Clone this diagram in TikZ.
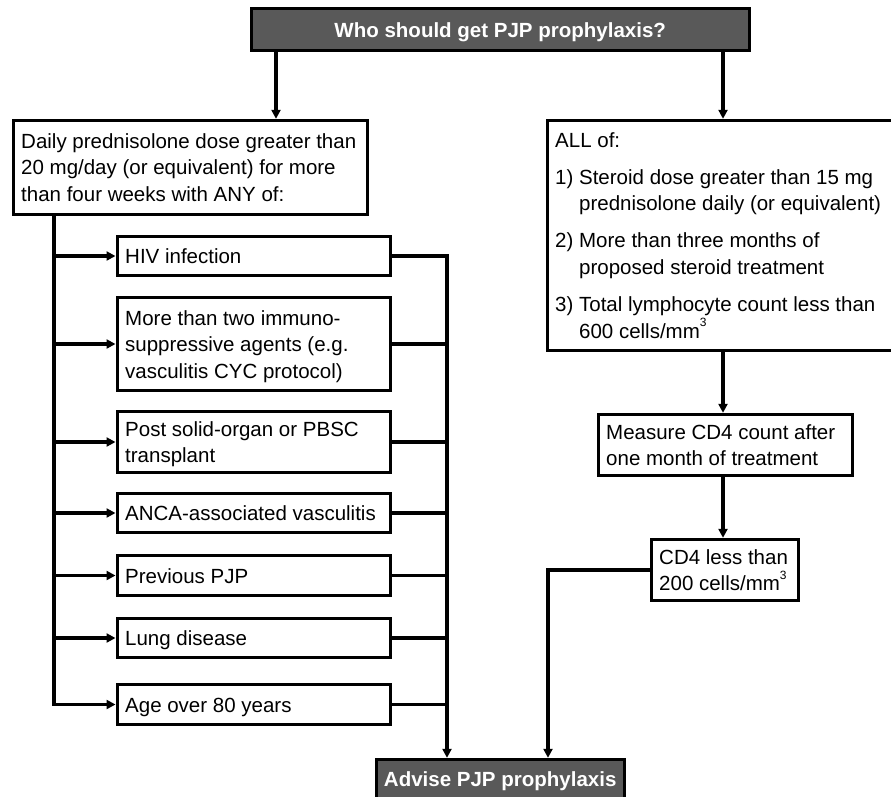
\documentclass[tikz,border=0pt]{standalone}
\usepackage{fontspec}
\setmainfont{Liberation Sans}
\usetikzlibrary{arrows.meta}
\definecolor{boxgray}{HTML}{595959}
\newcommand\bodyfont{\fontsize{20.5}{26.7}\selectfont}
\newcommand\bt[2]{\makebox[#1pt][l]{\parbox[t]{\dimexpr#1pt+60pt\relax}{\raggedright #2}}}
\newcommand\cubed{\raisebox{1.05ex}{\fontsize{12}{12}\selectfont 3}}
\tikzset{
  box/.style={draw, line width=3.4pt, fill=white, inner xsep=8pt, inner ysep=0pt, anchor=base west, font=\bodyfont},
  darkbox/.style={box, fill=boxgray, text=white, font=\bodyfont\bfseries},
  conn/.style={line width=3.2pt, line cap=rect},
  arr/.style={conn, -{Triangle[length=9pt,width=9pt]}},
}
\begin{document}
\begin{tikzpicture}[x=1pt,y=-1pt]
\useasboundingbox (0,0) rectangle (891,796);
\clip (0,0) rectangle (891,796);

% top and bottom dark boxes
\node[darkbox, text height=28.5pt, text depth=13.5pt] (title) at (249.5,37)
  {\makebox[482pt][c]{Who should get PJP prophylaxis?}};
\node[darkbox, text height=26.5pt, text depth=14pt] (advise) at (374.5,786)
  {\makebox[232pt][c]{Advise PJP prophylaxis}};

% left branch
\node[box, text height=27.5pt, text depth=66.5pt] (left) at (11.5,148)
  {\bt{338}{Daily prednisolone dose greater than\\20 mg/day (or equivalent) for more\\than four weeks with ANY of:}};
\node[box, text height=26.5pt, text depth=12.5pt] (hiv) at (115.5,263) {\bt{257}{HIV infection}};
\node[box, text height=27.5pt, text depth=65.5pt] (immuno) at (115.5,325)
  {\bt{257}{More than two immuno-\\suppressive agents (e.g.\\vasculitis CYC protocol)}};
\node[box, text height=24.5pt, text depth=36.5pt] (transplant) at (115.5,436)
  {\bt{257}{Post solid-organ or PBSC\\transplant}};
\node[box, text height=26.5pt, text depth=12.5pt] (anca) at (115.5,520) {\bt{257}{ANCA-associated vasculitis}};
\node[box, text height=27.5pt, text depth=12.5pt] (prev) at (115.5,583) {\bt{257}{Previous PJP}};
\node[box, text height=26.5pt, text depth=12.5pt] (lung) at (115.5,645) {\bt{257}{Lung disease}};
\node[box, text height=27.5pt, text depth=12.5pt] (age) at (115.5,712) {\bt{257}{Age over 80 years}};

% right branch
\node[box, text height=26.5pt, text depth=203.5pt] (all) at (545.5,147)
  {\bt{343.5}{ALL of:\\[10.3pt]1)~Steroid dose greater than 15 mg\\\hphantom{1)~}prednisolone daily (or equivalent)\\[10.3pt]2)~More than three months of\\\hphantom{2)~}proposed steroid treatment\\[10.3pt]3)~Total lymphocyte count less than\\\hphantom{3)~}600 cells/mm\cubed}};
\node[box, text height=24.5pt, text depth=36.5pt] (measure) at (596.5,439)
  {\bt{238}{Measure CD4 count after\\one month of treatment}};
\node[box, text height=24.5pt, text depth=36.5pt] (cd4) at (649.5,564)
  {\bt{131}{CD4 less than\\200 cells/mm\cubed}};

% connector guide coordinates
\coordinate (xL) at (276,0);
\coordinate (xR) at (723,0);
\coordinate (xS) at (54,0);
\coordinate (xT) at (447,0);
\coordinate (xU) at (548,0);

\draw[arr] (title.south -| xL) -- (left.north -| xL);
\draw[arr] (title.south -| xR) -- (all.north -| xR);
\draw[arr] (all.south -| xR) -- (measure.north -| xR);
\draw[arr] (measure.south -| xR) -- (cd4.north -| xR);

\draw[conn] (left.south -| xS) -- (age.west -| xS);
\foreach \n in {hiv,immuno,transplant,anca,prev,lung,age}{
  \draw[arr] (\n.west -| xS) -- (\n.west);
  \draw[conn] (\n.east) -- (\n.east -| xT);
}
\draw[arr] (hiv.east -| xT) -- (advise.north -| xT);
\draw[arr] (cd4.west) -| (advise.north -| xU);
\end{tikzpicture}
\end{document}
